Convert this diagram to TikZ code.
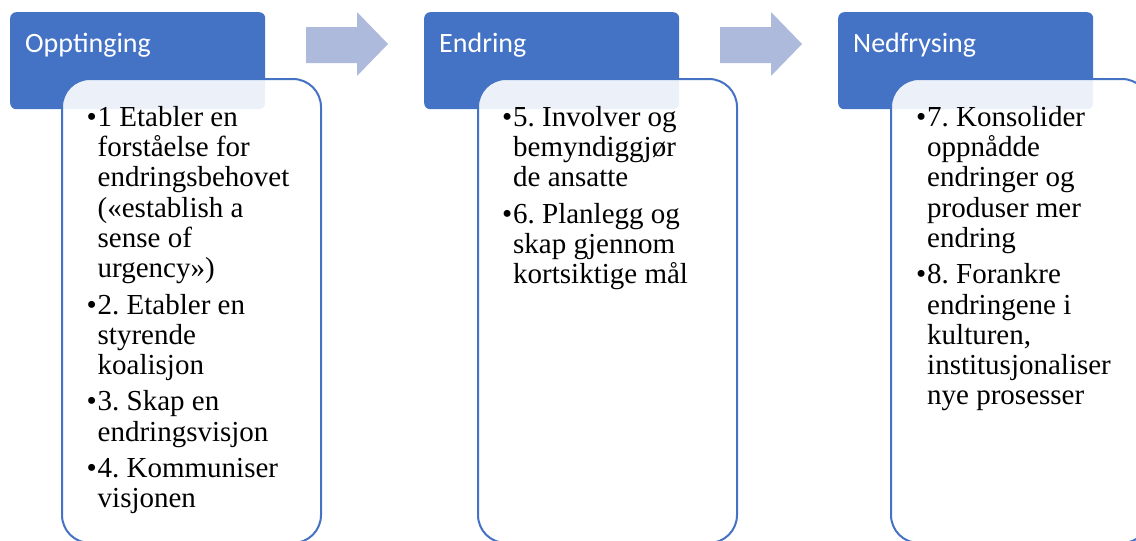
\documentclass[tikz,border=0pt]{standalone}
\usepackage{fontspec}
\setmainfont{Liberation Serif}
\newfontfamily\bodyfont{Liberation Serif}
\newfontfamily\hdrfont{Carlito}
\definecolor{accent}{HTML}{4472C4}
\definecolor{arrowfill}{RGB}{174,186,220}
\tikzset{
  header/.style={draw=none, fill=accent, rounded corners=6pt, minimum width=255pt, minimum height=97pt, inner sep=0pt, anchor=north west},
  hdrtext/.style={anchor=base west, inner sep=0pt, text=white, font=\hdrfont\fontsize{28}{34}\selectfont},
  content/.style={draw=accent, line width=2pt, fill=white, fill opacity=0.9, rounded corners=28pt, minimum width=259pt, minimum height=464pt, inner sep=0pt, anchor=north west},
  bodytext/.style={anchor=north west, inner sep=0pt, align=left, text=black, font=\bodyfont\frenchspacing\fontsize{29}{30.3}\selectfont},
  stagearrow/.style={fill=arrowfill, draw=none},
}
\newcommand{\bul}{\llap{•\hspace{1pt}}}
\begin{document}
\begin{tikzpicture}[x=1pt, y=-1pt]
\useasboundingbox (0,0) rectangle (1136,541);
\clip (0,0) rectangle (1136,541);

% arrows
\fill[stagearrow] (306,27) -- (357,27) -- (357,12) -- (388,44) -- (357,76) -- (357,63) -- (306,63) -- cycle;
\fill[stagearrow] (720,27) -- (771,27) -- (771,12) -- (802,44) -- (771,76) -- (771,63) -- (720,63) -- cycle;

% headers
\node[header] (h1) at (10,12) {};
\node[header] (h2) at (424,12) {};
\node[header] (h3) at (838,12) {};
\node[hdrtext] (h1t) at (25,52) {Opptinging};
\node[hdrtext] (h2t) at (439,52) {Endring};
\node[hdrtext] (h3t) at (853,52) {Nedfrysing};

% content boxes
\node[content] (c1) at (61,78) {};
\node[content] (c2) at (477,78) {};
\node[content] (c3) at (890,78) {};

% texts
\node[bodytext] (t1) at (97.5,104.8) {\strut\bul 1 Etabler en\\ forståelse for\\ endringsbehovet\\ («establish a\\ sense of\\ urgency»)\\[6pt]
\bul 2. Etabler en\\ styrende\\ koalisjon\\[6pt]
\bul 3. Skap en\\ endringsvisjon\\[6pt]
\bul 4. Kommuniser\\ visjonen};

\node[bodytext] (t2) at (513,104.8) {\strut\bul 5. Involver og\\ bemyndiggjør\\ de ansatte\\[6pt]
\bul 6. Planlegg og\\ skap gjennom\\ kortsiktige mål};

\node[bodytext] (t3) at (927,104.8) {\strut\bul 7. Konsolider\\ oppnådde\\ endringer og\\ produser mer\\ endring\\[6pt]
\bul 8. Forankre\\ endringene i\\ kulturen,\\ institusjonaliser\\ nye prosesser};
\end{tikzpicture}
\end{document}
